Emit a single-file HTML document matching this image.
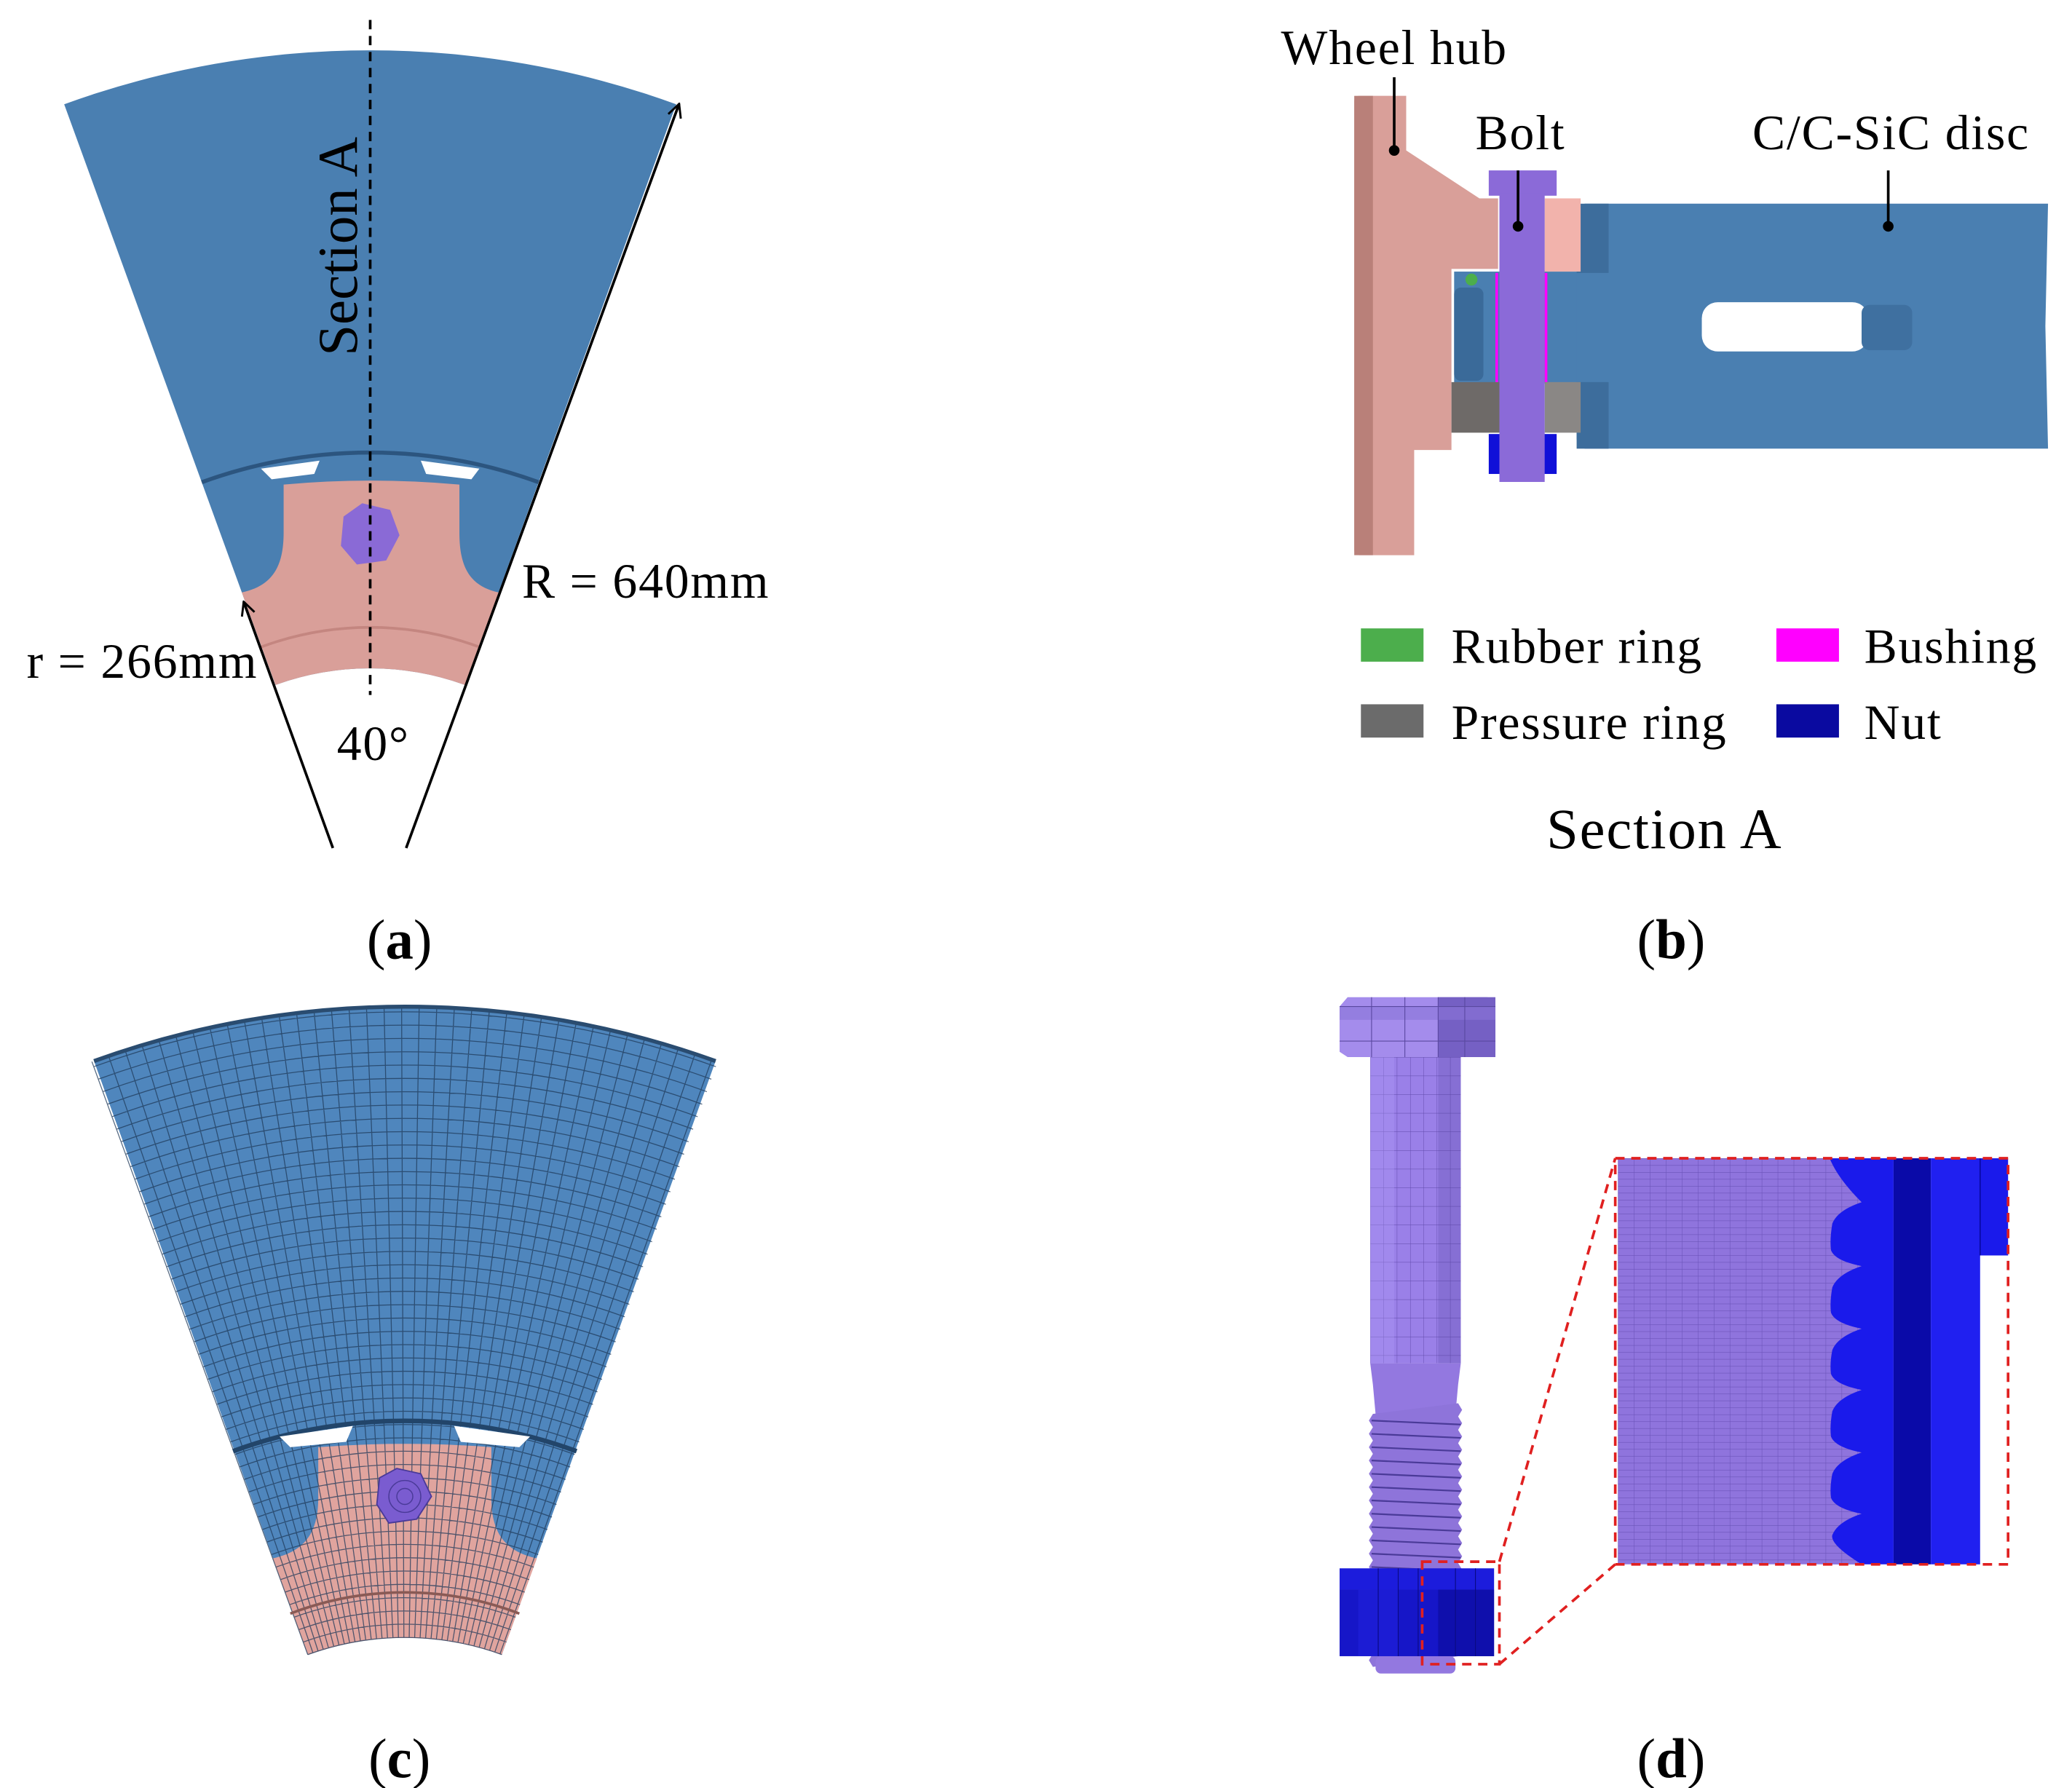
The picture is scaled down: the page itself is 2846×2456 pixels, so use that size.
<!DOCTYPE html>
<html><head><meta charset="utf-8"><style>
html,body{margin:0;padding:0;background:#fff}
svg{display:block}
text{font-family:"Liberation Serif",serif;fill:#000}
.l{font-size:37px;letter-spacing:1px}
</style></head><body>
<svg id="s" width="2846" height="2456" viewBox="0 0 1556 1343" preserveAspectRatio="none" xmlns="http://www.w3.org/2000/svg">
<defs>
<marker id="ar" viewBox="0 0 12 12" refX="11" refY="6" markerWidth="12" markerHeight="12" markerUnits="userSpaceOnUse" orient="auto"><path d="M1,1 L11,6 L1,11" fill="none" stroke="#000" stroke-width="1.6"/></marker>
<pattern id="pm" width="12" height="5.2" patternUnits="userSpaceOnUse" x="1215" y="870"><rect width="12" height="5.2" fill="#8f74dd"/><path d="M0,0H12M0,0V5.2" stroke="#6a52b8" stroke-width="0.6"/></pattern>
<pattern id="bm" width="10" height="14" patternUnits="userSpaceOnUse" x="1029" y="794"><rect width="10" height="14" fill="#9a80e8"/><path d="M0,0H10M0,0V14" stroke="#5e48a8" stroke-width="0.5"/></pattern>
</defs>

<!-- Panel (a) -->
<path d="M48.2,78.3 A672,672 0 0 1 507.8,78.3 L349.1,514.5 A208,208 0 0 0 206.9,514.5 Z" fill="#4a7fb1"/>
<path d="M151.5,362.2 A370,370 0 0 1 404.5,362.2" fill="none" stroke="#2c557f" stroke-width="3"/>
<path d="M196,352 L240,346 L236,356 L204,360 Z" fill="#fff"/>
<path d="M316,346 L360,352 L354,360 L320,356 Z" fill="#fff"/>
<path d="M181.6,445 C205,440 213,425 213,400 L213,364 Q278,358 345,364 L345,400 C345,425 352,440 374.4,445 L349.1,514.5 A208,208 0 0 0 206.9,514.5 Z" fill="#d99f99"/>
<path d="M196,486 A235,235 0 0 1 360,486" fill="none" stroke="#c48680" stroke-width="2"/>
<polygon points="272,378 293,383 300,402 290,421 268,424 256,410 258,388" fill="#8a6ad6"/>
<line x1="278" y1="15" x2="278" y2="522" stroke="#000" stroke-width="2" stroke-dasharray="7,5"/>
<text transform="translate(268,185) rotate(-90)" font-size="42" text-anchor="middle">Section A</text>
<line x1="250" y1="637" x2="183" y2="452" stroke="#000" stroke-width="2" marker-end="url(#ar)"/>
<line x1="305" y1="637" x2="510" y2="78" stroke="#000" stroke-width="2" marker-end="url(#ar)"/>
<text x="392" y="449" class="l">R = 640mm</text>
<text x="20" y="509" class="l">r = 266mm</text>
<text x="253" y="571" class="l">40°</text>
<text x="300" y="720" font-size="42" text-anchor="middle">(<tspan font-weight="bold">a</tspan>)</text>

<!-- Panel (b) -->
<path d="M1017,76 Q1017,72 1021,72 L1056,72 L1056,113 L1111,149 L1125,149 L1125,202 L1090,202 L1090,338 L1062,338 L1062,417 L1021,417 Q1017,417 1017,413 Z" fill="#d99f99"/>
<rect x="1017" y="72" width="14" height="345" fill="#b98079"/>
<rect x="1092" y="204" width="96" height="84" fill="#4a7fb1"/>
<rect x="1092" y="216" width="22" height="70" rx="5" fill="#3a6a99"/>
<path d="M1184,160 L1190,153 L1538,153 L1536,245 L1538,337 L1190,337 L1184,330 Z" fill="#4a7fb1"/>
<rect x="1184" y="153" width="24" height="52" fill="#3d6d9c"/>
<rect x="1184" y="287" width="24" height="50" fill="#3d6d9c"/>
<rect x="1278" y="227" width="125" height="37" rx="12" fill="#fff"/>
<rect x="1398" y="229" width="38" height="34" rx="6" fill="#3f70a0"/>
<rect x="1160" y="149" width="27" height="55" fill="#f2b3ac"/>
<rect x="1090" y="287" width="36" height="38" fill="#6e6a68"/>
<rect x="1160" y="287" width="27" height="38" fill="#8a8785"/>
<rect x="1118" y="326" width="51" height="30" fill="#1010d8"/>
<line x1="1124" y1="205" x2="1124" y2="287" stroke="#ff00ff" stroke-width="2"/>
<line x1="1161" y1="205" x2="1161" y2="287" stroke="#ff00ff" stroke-width="2"/>
<circle cx="1105" cy="210" r="4.5" fill="#4cae4c"/>
<rect x="1118" y="128" width="51" height="19" fill="#8b6ad8"/>
<rect x="1126" y="145" width="34" height="217" fill="#8b6ad8"/>
<line x1="1047" y1="58" x2="1047" y2="113" stroke="#000" stroke-width="2"/><circle cx="1047" cy="113" r="4" fill="#000"/>
<line x1="1140" y1="128" x2="1140" y2="170" stroke="#000" stroke-width="2"/><circle cx="1140" cy="170" r="4" fill="#000"/>
<line x1="1418" y1="128" x2="1418" y2="170" stroke="#000" stroke-width="2"/><circle cx="1418" cy="170" r="4" fill="#000"/>
<text x="962" y="48" class="l">Wheel hub</text>
<text x="1108" y="112" class="l">Bolt</text>
<text x="1316" y="112" class="l">C/C-SiC disc</text>
<rect x="1022" y="472" width="47" height="25" fill="#4cae4c"/>
<rect x="1022" y="529" width="47" height="25" fill="#6b6b6b"/>
<rect x="1334" y="472" width="47" height="25" fill="#ff00ff"/>
<rect x="1334" y="529" width="47" height="25" fill="#0a0aa0"/>
<text x="1090" y="498" class="l">Rubber ring</text>
<text x="1090" y="555" class="l">Pressure ring</text>
<text x="1400" y="498" class="l">Bushing</text>
<text x="1400" y="555" class="l">Nut</text>
<text x="1250" y="637" font-size="43" letter-spacing="1" text-anchor="middle">Section A</text>
<text x="1255" y="720" font-size="42" text-anchor="middle">(<tspan font-weight="bold">b</tspan>)</text>

<!-- Panel (c) -->
<path id="csec" d="M70.6,797 A687,687 0 0 1 537.4,797 L376.8,1243 A213,213 0 0 0 231.2,1243 Z" fill="#4f86bd"/>
<path d="M204.8,1170.5 C230,1165 239,1150 239,1125 L239,1087 Q304,1082 369,1087 L369,1125 C369,1150 378,1165 403.2,1170.5 L376.8,1243 A213,213 0 0 0 231.2,1243 Z" fill="#e0a49e"/>
<g id="mesh" stroke="#1f3a5a" stroke-width="0.7" fill="none" opacity="0.75"></g>
<path d="M70.6,797 A687,687 0 0 1 537.4,797" fill="none" stroke="#2a4c70" stroke-width="3"/>
<path d="M175,1090 A377,377 0 0 1 433,1090" fill="none" stroke="#22456a" stroke-width="3.5"/>
<path d="M210,1079 L265,1071 L260,1083 L218,1087 Z" fill="#fff"/>
<path d="M341,1071 L398,1079 L390,1087 L346,1083 Z" fill="#fff"/>
<path d="M218,1212 A240,240 0 0 1 390,1212" fill="none" stroke="#8a5a55" stroke-width="2"/>
<polygon points="298,1103 316,1107 324,1124 313,1141 292,1144 283,1130 285,1110" fill="#7a5cd0" stroke="#4a3a98" stroke-width="1"/>
<circle cx="304" cy="1124" r="12" fill="none" stroke="#4a3a98" stroke-width="0.8"/>
<circle cx="304" cy="1124" r="6" fill="none" stroke="#4a3a98" stroke-width="0.8"/>
<text x="300" y="1335" font-size="42" text-anchor="middle">(<tspan font-weight="bold">c</tspan>)</text>

<!-- Panel (d) -->
<rect x="1029" y="794" width="68" height="230" fill="url(#bm)"/>
<rect x="1029" y="794" width="18" height="230" fill="#b09af5" opacity="0.35"/>
<rect x="1080" y="794" width="17" height="230" fill="#4a3a98" opacity="0.25"/>
<path d="M1029,1024 L1097,1024 L1095,1040 L1093,1062 L1033,1062 L1031,1040 Z" fill="#9378e0"/>
<g id="thread"></g>
<path d="M1006,756 L1012,749 L1117,749 L1123,756 L1123,790 L1117,794 L1012,794 L1006,790 Z" fill="#a48cec"/>
<rect x="1080" y="749" width="43" height="45" fill="#7560c4"/>
<rect x="1006" y="756" width="117" height="10" fill="#8b74d8" opacity="0.6"/>
<path d="M1006,756H1123M1006,782H1123M1030,749V794M1055,749V794M1080,749V794M1100,749V794" stroke="#5a48a0" stroke-width="0.6"/>
<rect x="1006" y="1194" width="116" height="50" fill="#1616c8"/>
<rect x="1006" y="1178" width="116" height="16" fill="#1c1cdc"/>
<rect x="1020" y="1194" width="30" height="50" fill="#2222e0" opacity="0.5"/>
<rect x="1080" y="1194" width="42" height="50" fill="#0c0c9a" opacity="0.6"/>
<path d="M1035,1178V1244M1050,1178V1244M1065,1178V1244M1093,1178V1244M1108,1178V1244" stroke="#0a0a80" stroke-width="0.6"/>
<rect x="1033" y="1244" width="60" height="13" rx="4" fill="#9378e0"/>
<rect x="1068" y="1173" width="58" height="77" fill="none" stroke="#e02020" stroke-width="2" stroke-dasharray="7,5"/>
<line x1="1126" y1="1173" x2="1213" y2="870" stroke="#e02020" stroke-width="2" stroke-dasharray="7,5"/>
<line x1="1126" y1="1250" x2="1213" y2="1175" stroke="#e02020" stroke-width="2" stroke-dasharray="7,5"/>
<rect x="1374" y="870" width="48" height="305" fill="#1a1aeb"/>
<rect x="1422" y="870" width="28" height="305" fill="#0a0aa8"/>
<rect x="1450" y="870" width="37" height="305" fill="#2020f0"/>
<rect x="1487" y="870" width="21" height="73" fill="#1a1aeb"/>
<line x1="1487" y1="870" x2="1487" y2="943" stroke="#0a0aa8" stroke-width="1"/>
<path id="saw" fill="url(#pm)"/>
<rect x="1213" y="870" width="295" height="305" fill="none" stroke="#e02020" stroke-width="2" stroke-dasharray="7,5"/>
<text x="1255" y="1335" font-size="42" text-anchor="middle">(<tspan font-weight="bold">d</tspan>)</text>
</svg>
<script>
var NS="http://www.w3.org/2000/svg";
(function(){
 var g=document.getElementById('mesh'),d="";
 var cx=304,cy=1443;
 for(var a=-20;a<=20.01;a+=1.1){var t=a*Math.PI/180,s=Math.sin(t),c=Math.cos(t);
  d+="M"+(cx+213*s).toFixed(1)+","+(cy-213*c).toFixed(1)+"L"+(cx+687*s).toFixed(1)+","+(cy-687*c).toFixed(1);}
 var s20=Math.sin(20*Math.PI/180),c20=Math.cos(20*Math.PI/180);
 for(var r=213;r<=687;r+=10){d+="M"+(cx-r*s20).toFixed(1)+","+(cy-r*c20).toFixed(1)+"A"+r+","+r+" 0 0 1 "+(cx+r*s20).toFixed(1)+","+(cy-r*c20).toFixed(1);}
 var p=document.createElementNS(NS,'path');p.setAttribute('d',d);g.appendChild(p);
 var th=document.getElementById('thread'),td="M1031,1062";
 for(var y=1062;y<1244;y+=10){td+="L1028,"+(y+5)+"L1031,"+(y+10);}
 td+="L1095,1244";
 for(var y=1244;y>1062;y-=10){td+="L1098,"+(y-5)+"L1095,"+(y-10);}
 td+="Z";
 var tp=document.createElementNS(NS,'path');tp.setAttribute('d',td);tp.setAttribute('fill','#8e74da');th.appendChild(tp);
 var ld="";for(var y=1067;y<1244;y+=10){ld+="M1030,"+y+"L1097,"+(y+3);}
 var lp=document.createElementNS(NS,'path');lp.setAttribute('d',ld);lp.setAttribute('stroke','#4a3a98');lp.setAttribute('stroke-width','1.2');th.appendChild(lp);
 var sd="M1215,870L1374,870";var peaks=[903,951,998,1044,1091,1137];
 for(var i=0;i<peaks.length;i++){var pk=peaks[i];
  if(i==0){sd+="Q1380,885 1398,"+pk;}
  else{sd+="Q1374,"+(pk-20)+" 1375,"+(pk-12)+"Q1378,"+(pk-4)+" 1398,"+pk;}
  sd+="Q1380,"+(pk+6)+" 1376,"+(pk+16);}
 sd+="Q1374,1160 1398,1175L1215,1175Z";
 document.getElementById('saw').setAttribute('d',sd);
})();
</script>
</body></html>
